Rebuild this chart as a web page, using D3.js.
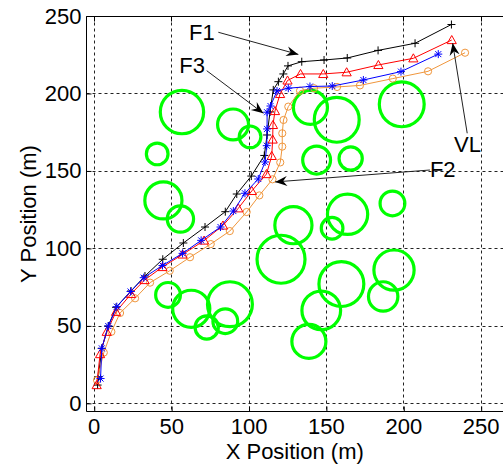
<!DOCTYPE html>
<html>
<head>
<meta charset="utf-8">
<script src="https://cdn.jsdelivr.net/npm/d3@7"></script>
<style>
body { margin: 0; background: #fff; }
svg { display: block; font-family: Arial, "Liberation Sans", sans-serif; }
</style>
</head>
<body>
<script>
const w = 503;
const h = 468;

const xTicks = [0, 50, 100, 150, 200, 250];
const yTicks = [0, 50, 100, 150, 200, 250];

// obstacles: [x, y, radius] in metres
const obstacles = [
  [57, 188, 14], [90, 180, 10], [101, 172, 7], [41, 161, 7], [45, 131, 12],
  [56, 119, 8.5], [140, 191, 11], [157, 183, 14.5], [199, 193, 14.5], [144, 157, 9],
  [166, 158, 7.5], [164, 122, 13], [193, 129, 8], [129, 115, 12], [154, 113, 7],
  [121, 93, 15.5], [160, 77, 14.5], [194, 86, 13], [187, 69, 9.5], [147, 60, 12.5],
  [139, 40, 11], [48, 70, 8], [63, 61, 12], [88, 64, 14.5], [73, 49, 7.5], [85, 53, 8]
];

const pathF1 = [
  [2.5, 11.8], [3.0, 17.2], [5.2, 35.5], [9.4, 49.9], [14.4, 62], [24.1, 72.5],
  [33.1, 82.2], [44.6, 93], [57.9, 103.5], [71.9, 113.8], [85, 123.7], [92.4, 135.1],
  [101.8, 146.7], [110.2, 160], [112, 173.2], [113.9, 188.1], [116, 202.3], [119.3, 207.6],
  [122.5, 212.6], [125.5, 217.8], [134.4, 220.5], [148.8, 221.6], [163.8, 222.9],
  [183.7, 227.8], [207.6, 232.4], [231.1, 244.5]
];

const pathVL = [
  [1.9, 11.8], [4.1, 31.8], [8.4, 46.2], [14.4, 59.1], [24.1, 70.6], [32.8, 79.6],
  [44.4, 88], [57.4, 96.1], [71.3, 105.1], [83.5, 114.8], [93.4, 125.9], [102.1, 137.1],
  [111.6, 148], [115, 159.7], [115.6, 170.3], [115.8, 179.7], [117.1, 188.7], [120.4, 199.7],
  [125.2, 208.4], [133.6, 212.6], [148.3, 212.6], [163.4, 213.7], [183.9, 218.4],
  [206.5, 222.7], [231.3, 234.5]
];

const pathF3 = [
  [4.4, 16], [5.2, 35.5], [9.4, 49.9], [14.9, 62.4], [23.8, 72.2], [32.3, 81.1],
  [44.4, 89], [57.4, 96.8], [69.4, 105.2], [81.9, 113.8], [90.2, 124.1], [97.7, 135.6],
  [106.3, 144.8], [110.7, 155.8], [111.8, 166.3], [112, 177.1], [112, 187.9], [114.2, 191.9],
  [118.4, 201.6], [125.7, 203.4], [139.7, 204.5], [154.1, 204.8], [174.2, 208.7],
  [198.5, 214.1], [222.6, 225.4]
];

const pathF2 = [
  [2.1, 15], [6.5, 32.8], [11.4, 46.2], [17, 58.3], [26.7, 67.8], [36.4, 77.9],
  [49.1, 85.6], [62.2, 94.3], [75.6, 102.8], [87.9, 111.2], [98.8, 123.5], [107, 134.2],
  [115.5, 144.6], [120.5, 155.5], [121.8, 165.7], [121.8, 174.3], [122.6, 182.9],
  [125.7, 191.5], [133.3, 201.8], [142.3, 203.4], [157.2, 204.2], [172, 205.2],
  [193.2, 209.6], [216, 214.3], [239.9, 226.3]
];

// label, text anchor, arrow tail, arrow tip (metres)
const notes = [
  { label: "F1", at: [61.6, 234.6], from: [80.5, 239.5], to: [132.2, 225.2] },
  { label: "F3", at: [55.3, 213.4], from: [73, 214.7], to: [109.6, 187.2] },
  { label: "F2", at: [217.2, 146.3], from: [217.2, 150.6], to: [117.2, 142.9] },
  { label: "VL", at: [232.8, 162], from: [241.3, 174.3], to: [231.9, 232.4] }
];

const svg = d3.select("body").append("svg")
  .attr("width", w)
  .attr("height", h);

const x = d3.scaleLinear().domain([-5, 265]).range([86, 503.9]);
const y = d3.scaleLinear().domain([-5, 250]).range([411.1, 16]);
const px = v => Math.round(x(v)) + 0.5;
const py = v => Math.round(y(v)) + 0.5;

// grid
const grid = svg.append("g").attr("stroke", "#222").attr("stroke-width", 1).attr("stroke-dasharray", "3,3");
xTicks.forEach(t => grid.append("line").attr("x1", px(t)).attr("x2", px(t)).attr("y1", py(250)).attr("y2", py(-5)));
yTicks.forEach(t => grid.append("line").attr("x1", px(-5)).attr("x2", w).attr("y1", py(t)).attr("y2", py(t)));

// axes
const xAxis = svg.append("g")
  .attr("transform", "translate(0," + py(-5) + ")")
  .call(d3.axisBottom(x).tickValues(xTicks).tickSize(-5).tickPadding(7));
const yAxis = svg.append("g")
  .attr("transform", "translate(" + px(-5) + ",0)")
  .call(d3.axisLeft(y).tickValues(yTicks).tickSize(-5).tickPadding(5));
[xAxis, yAxis].forEach(g => {
  g.select(".domain").remove();
  g.attr("font-size", 22).attr("font-family", null);
  g.selectAll(".tick text").attr("fill", "#000");
  g.selectAll(".tick line").attr("stroke", "#000");
});
xAxis.selectAll(".tick line").attr("transform", "translate(0.5,0)");

// top ticks
svg.append("g").selectAll("line").data(xTicks).enter().append("line")
  .attr("x1", d => px(d)).attr("x2", d => px(d))
  .attr("y1", py(250)).attr("y2", py(250) + 5)
  .attr("stroke", "#000");

// frame
svg.append("path")
  .attr("d", `M${w},${py(250)}H${px(-5)}V${py(-5)}H${w}`)
  .attr("fill", "none").attr("stroke", "#000").attr("stroke-width", 1);

// obstacles
svg.append("g").selectAll("circle").data(obstacles).enter().append("circle")
  .attr("cx", d => x(d[0]))
  .attr("cy", d => y(d[1]))
  .attr("r", d => x(d[2]) - x(0))
  .attr("fill", "none")
  .attr("stroke", "#00ff00")
  .attr("stroke-width", 3.2);

const line = d3.line().x(d => x(d[0])).y(d => y(d[1]));

const series = [
  { data: pathF1, color: "#000000", marker: "M-4,0H4M0,-4V4" },
  { data: pathF2, color: "#f0963c", marker: "M-3.6,0a3.6,3.6 0 1,0 7.2,0a3.6,3.6 0 1,0 -7.2,0Z" },
  { data: pathVL, color: "#ff0000", marker: "M0,-4.5L4.6,3.6H-4.6Z" },
  { data: pathF3, color: "#0000ff", marker: "M-4,0H4M0,-4V4M-3,-3L3,3M-3,3L3,-3" }
];

series.forEach(s => {
  const g = svg.append("g");
  g.append("path")
    .attr("d", line(s.data))
    .attr("fill", "none")
    .attr("stroke", s.color)
    .attr("stroke-width", 1);
  g.selectAll(".m").data(s.data).enter().append("path")
    .attr("class", "m")
    .attr("transform", d => "translate(" + x(d[0]) + "," + y(d[1]) + ")")
    .attr("d", s.marker)
    .attr("fill", "none")
    .attr("stroke", s.color)
    .attr("stroke-width", 1);
});

// annotations
notes.forEach(n => {
  const x0 = x(n.from[0]), y0 = y(n.from[1]);
  const x1 = x(n.to[0]), y1 = y(n.to[1]);
  const ang = Math.atan2(y1 - y0, x1 - x0) * 180 / Math.PI;
  svg.append("line")
    .attr("x1", x0).attr("y1", y0)
    .attr("x2", x1).attr("y2", y1)
    .attr("stroke", "#222").attr("stroke-width", 1);
  svg.append("path")
    .attr("transform", "translate(" + x1 + "," + y1 + ") rotate(" + ang + ")")
    .attr("d", "M0,0L-12,-5L-8,0L-12,5Z")
    .attr("fill", "#000");
  svg.append("text")
    .attr("x", x(n.at[0])).attr("y", y(n.at[1]))
    .attr("font-size", 22)
    .text(n.label);
});

// axis titles
svg.append("text")
  .attr("x", (px(-5) + w) / 2)
  .attr("y", 459)
  .attr("text-anchor", "middle")
  .attr("font-size", 22)
  .text("X Position (m)");

svg.append("text")
  .attr("transform", "translate(36," + ((py(250) + py(-5)) / 2) + ") rotate(-90)")
  .attr("text-anchor", "middle")
  .attr("font-size", 22)
  .text("Y Position (m)");
</script>
</body>
</html>
